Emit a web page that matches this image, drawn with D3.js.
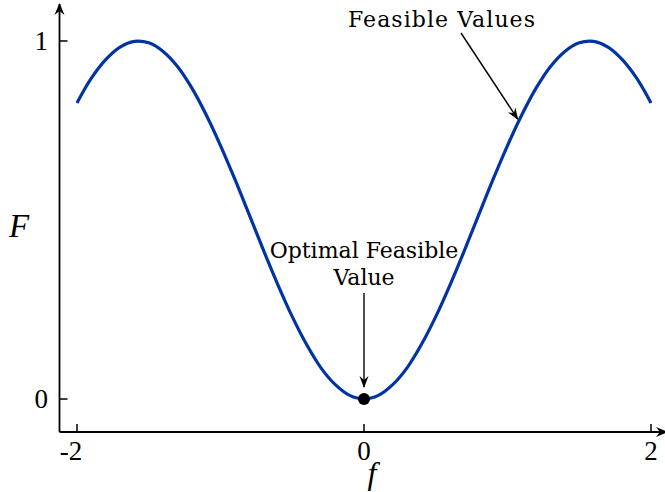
<!DOCTYPE html>
<html>
<head>
<meta charset="utf-8">
<script src="https://cdn.jsdelivr.net/npm/d3@7"></script>
<style>
  html, body { margin: 0; padding: 0; background: #fff; }
  svg { display: block; }
</style>
</head>
<body>
<svg id="chart" width="665" height="492"></svg>
<script>
// Objective curve F(f), sampled on [-2, 2]
const fValues = [-2.0, -1.9, -1.8, -1.7, -1.6, -1.5, -1.4, -1.3, -1.2, -1.1, -1.0,
                 -0.9, -0.8, -0.7, -0.6, -0.5, -0.4, -0.3, -0.2, -0.1, 0.0,
                  0.1, 0.2, 0.3, 0.4, 0.5, 0.6, 0.7, 0.8, 0.9, 1.0,
                  1.1, 1.2, 1.3, 1.4, 1.5, 1.6, 1.7, 1.8, 1.9, 2.0];
const FValues = [0.827, 0.896, 0.948, 0.983, 0.999, 0.995, 0.971, 0.929, 0.869, 0.794, 0.708,
                 0.614, 0.515, 0.415, 0.319, 0.230, 0.152, 0.087, 0.040, 0.010, 0.000,
                 0.010, 0.040, 0.087, 0.152, 0.230, 0.319, 0.415, 0.515, 0.614, 0.708,
                 0.794, 0.869, 0.929, 0.971, 0.995, 0.999, 0.983, 0.948, 0.896, 0.827];

const xTicks = [-2, 0, 2];
const xTickLabels = ["-2", "0", "2"];
const yTicks = [0, 1];
const yTickLabels = ["0", "1"];

// Annotated points
const optimum = { f: 0.0, F: 0.0 };
const feasiblePoint = { f: 1.085, F: 0.782 };

const svg = d3.select("#chart");
const x = d3.scaleLinear().domain([-2, 2]).range([77, 651]);
const y = d3.scaleLinear().domain([0, 1]).range([399, 41]);

const axisX = 59.5, axisY = 432;
const tickFont = "'Liberation Serif', 'DejaVu Serif', serif";
const annFont = "'DejaVu Serif', serif";

// Arrowhead markers
const defs = svg.append("defs");
defs.append("marker")
  .attr("id", "axisHead").attr("viewBox", "0 0 12 12")
  .attr("refX", 11).attr("refY", 6)
  .attr("markerWidth", 12).attr("markerHeight", 12)
  .attr("markerUnits", "userSpaceOnUse").attr("orient", "auto")
  .append("path").attr("d", "M0,1 L12,6 L0,11 L4,6 Z").attr("fill", "#000");
defs.append("marker")
  .attr("id", "annHead").attr("viewBox", "0 0 12 12")
  .attr("refX", 11).attr("refY", 6)
  .attr("markerWidth", 12).attr("markerHeight", 12)
  .attr("markerUnits", "userSpaceOnUse").attr("orient", "auto")
  .append("path").attr("d", "M0,1.5 L12,6 L0,10.5 L4,6 Z").attr("fill", "#000");

// Axes with arrow tips
svg.append("line")
  .attr("x1", axisX).attr("y1", axisY).attr("x2", 667).attr("y2", axisY)
  .attr("stroke", "#000").attr("stroke-width", 1.8)
  .attr("marker-end", "url(#axisHead)");
svg.append("line")
  .attr("x1", axisX).attr("y1", axisY).attr("x2", axisX).attr("y2", 4)
  .attr("stroke", "#000").attr("stroke-width", 1.8)
  .attr("marker-end", "url(#axisHead)");

// Ticks (pointing inward)
svg.selectAll(".xtick").data(xTicks).enter().append("line")
  .attr("x1", d => x(d)).attr("x2", d => x(d))
  .attr("y1", axisY).attr("y2", axisY - 8)
  .attr("stroke", "#000").attr("stroke-width", 1.5);
svg.selectAll(".ytick").data(yTicks).enter().append("line")
  .attr("x1", axisX).attr("x2", axisX + 8)
  .attr("y1", d => y(d)).attr("y2", d => y(d))
  .attr("stroke", "#000").attr("stroke-width", 1.5);

svg.selectAll(".xlab").data(xTicks).enter().append("text")
  .attr("x", d => x(d) - (d < 0 ? 6 : 0)).attr("y", 460)
  .attr("text-anchor", "middle")
  .attr("font-family", tickFont).attr("font-size", 27)
  .text((d, i) => xTickLabels[i]);
svg.selectAll(".ylab").data(yTicks).enter().append("text")
  .attr("x", 48).attr("y", d => y(d) + 9)
  .attr("text-anchor", "end")
  .attr("font-family", tickFont).attr("font-size", 27)
  .text((d, i) => yTickLabels[i]);

// Axis titles
svg.append("text").attr("x", 372).attr("y", 484)
  .attr("text-anchor", "middle")
  .attr("font-family", tickFont).attr("font-style", "italic").attr("font-size", 32)
  .text("f");
svg.append("text").attr("x", 19).attr("y", 237)
  .attr("text-anchor", "middle")
  .attr("font-family", tickFont).attr("font-style", "italic").attr("font-size", 33)
  .text("F");

// Curve
const line = d3.line()
  .x((d, i) => x(fValues[i]))
  .y((d, i) => y(FValues[i]))
  .curve(d3.curveCatmullRom);
svg.append("path")
  .datum(fValues)
  .attr("d", line)
  .attr("fill", "none")
  .attr("stroke", "#0033a3")
  .attr("stroke-width", 3.2);

// Optimum marker
svg.append("circle")
  .attr("cx", x(optimum.f)).attr("cy", y(optimum.F))
  .attr("r", 6).attr("fill", "#000");

// Annotations
svg.append("line")
  .attr("x1", x(optimum.f)).attr("y1", 293)
  .attr("x2", x(optimum.f)).attr("y2", y(optimum.F) - 12)
  .attr("stroke", "#000").attr("stroke-width", 1.4)
  .attr("marker-end", "url(#annHead)");
svg.append("text").attr("x", x(optimum.f)).attr("y", 258)
  .attr("text-anchor", "middle")
  .attr("font-family", annFont).attr("font-size", 22)
  .text("Optimal Feasible");
svg.append("text").attr("x", x(optimum.f)).attr("y", 285)
  .attr("text-anchor", "middle")
  .attr("font-family", annFont).attr("font-size", 22)
  .text("Value");

svg.append("line")
  .attr("x1", 461).attr("y1", 33)
  .attr("x2", x(feasiblePoint.f) - 2).attr("y2", y(feasiblePoint.F))
  .attr("stroke", "#000").attr("stroke-width", 1.4)
  .attr("marker-end", "url(#annHead)");
svg.append("text").attr("x", 348).attr("y", 27)
  .attr("text-anchor", "start")
  .attr("font-family", annFont).attr("font-size", 22)
  .attr("textLength", 187).attr("lengthAdjust", "spacing")
  .text("Feasible Values");
</script>
</body>
</html>
